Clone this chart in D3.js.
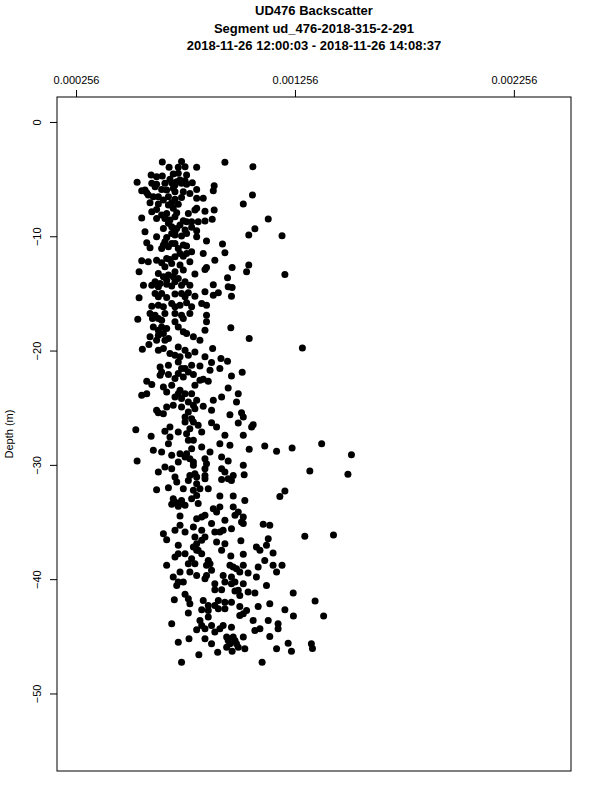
<!DOCTYPE html>
<html><head><meta charset="utf-8">
<script src="https://cdn.jsdelivr.net/npm/d3@7"></script>
<style>body{margin:0;background:#fff} svg{display:block}</style>
</head><body>
<script>
const titleLines = ["UD476 Backscatter", "Segment ud_476-2018-315-2-291", "2018-11-26 12:00:03 - 2018-11-26 14:08:37"];
const xTicks = [0.000256, 0.001256, 0.002256];
const xTickLabels = ["0.000256", "0.001256", "0.002256"];
const yTicks = [0, -10, -20, -30, -40, -50];
const yLabel = "Depth (m)";
const xLim = [0.000256, 0.00243];
const yLim = [-54.6, 0];

// Depth (m) and backscatter (x 1e-6), band by band
const depthUpper = [
 -3.5,-3.47,-3.97,-3.97,-3.91,-3.97,-3.53,-3.91,
 -4.64,-4.79,-4.73,-4.55,-4.49,-4.64,
 -5.28,-5.37,-5.46,-5.37,-5.31,-5.22,-5.37,-5.46,-5.31,-5.57,
 -6.01,-6.19,-5.9,-5.95,-5.81,-6.1,-5.9,-6.01,-6.39,
 -6.39,-6.54,-6.54,-6.77,-6.6,-6.68,-6.68,
 -7.06,-7.18,-7.06,-7.21,-7.18,
 -7.85,-7.65,-8.0,-7.94,-8.0,-7.71,-7.56,-7.82,-7.71,
 -8.41,-8.44,-8.44,-8.58,-8.29,-8.64,-8.73,-8.73,-8.67,-8.52,-8.49,
 -9.6,-9.31,-9.17,-9.31,-9.46,-9.22,-9.52,-9.34,-9.9,-9.95,
 -10.04,-10.1,-9.9,-9.98,-10.04,-10.42,
 -10.57,-11.0,-10.77,-10.92,-10.63,-11.06,-10.86,-10.68,
 -11.5,-11.5,-11.36,-11.5,-11.44,
 -12.14,-12.23,-12.09,-11.94,-12.38,-12.52,-12.23,-12.09,-12.73,-12.73,-12.52,
 -13.11,-13.25,-13.55,-13.4,-13.11,-12.96,-13.31,-12.9,-13.11,-13.34,-13.63,
 -14.28,-14.28,-14.13,-14.19,-13.98,-13.98,-14.28,-14.25,-14.42,-14.48,
 -15.39,-15.0,-15.3,-15.36,-15.06,-15.0,-14.95,-15.24,-14.86,-15.15,-14.95,-15.24,
 -16.12,-16.03,-15.88,-16.03,-15.82,-15.88,-16.03,
 -16.76,-16.9,-16.76,-16.76,-16.9,-16.76,-16.9,-17.25,-17.34,-17.2,-17.49
];
const backscatterUpperE6 = [
 650,738,681,723,754,807,936,1064,
 599,624,650,700,723,761,
 535,602,624,662,693,716,738,761,787,887,
 556,579,647,670,700,746,807,883,1062,
 586,632,678,708,738,807,837,
 594,632,693,723,1020,
 602,624,670,716,769,799,807,845,887,
 556,624,662,685,708,746,784,814,845,878,1134,
 571,655,693,716,754,784,807,1073,1045,1197,
 624,670,708,738,807,852,
 579,594,655,678,693,723,761,925,
 731,761,784,837,936,
 556,586,624,670,693,731,776,890,852,969,1045,
 544,632,655,678,708,746,799,845,1035,1210,948,
 564,602,640,670,708,754,776,883,951,969,
 544,617,632,670,708,738,769,799,845,883,906,966,
 602,632,693,731,761,830,852,
 594,617,662,708,738,776,852,538,647,746,852
];
const depthMiddle = [
 -17.93,-18.22,-18.51,-18.07,-17.93,-18.36,-18.51,-18.8,-19.09,-18.22,-18.01,-18.95,-18.8,-19.09,-18.95,
 -19.77,-19.88,-19.47,-19.97,-19.82,-20.26,-19.68,-19.97,-20.12,-19.82,-20.55,-20.7,-20.93,-21.05,
 -21.43,-21.28,-20.99,-21.58,-21.28,-21.34,-21.72,-21.58,-22.22,-21.9,
 -22.16,-22.1,-22.45,-22.31,-22.1,-22.6,-22.69,-22.69,-22.98,-23.18,-23.04,-23.47,-23.04,-22.51,
 -23.91,-23.77,-24.06,-23.77,-23.77,-24.35,-24.35,-24.06,-23.27,-23.77,-24.5,
 -25.43,-24.93,-24.79,-24.93,-25.37,-25.08,-24.88,-25.23,-25.61,-25.43,-25.81,
 -26.92,-27.5,-27.07,-26.69,-27.12,-26.25,-26.25,-26.83,-27.12,-26.31,-26.69,-27.42,-26.34,-26.48,-27.42,-26.69,
 -28.73,-28.88,-28.15,-29.17,-29.02,-27.85,-28.58,-28.44,-28.88,-28.15,-28.29,-28.64,-28.35,-28.82,-28.53,-28.15,-29.11,
 -29.66,-30.63,-30.19,-30.34,-29.75,-29.31,-29.46,-30.04,-30.77,-29.46,-30.34,-29.31,-29.66,-30.34,-30.63,-30.92,-30.04,-30.86,-30.54,-30.83,
 -32.18,-32.0,-31.5,-32.09,-31.36,-31.65,-31.21,-32.09,-31.27,-31.21,-31.36,-32.76,-32.29,
 -32.96,-33.11,-32.96,-32.67,-32.73,-32.73,-33.11
];
const backscatterMiddleE6 = [
 609,632,655,670,723,746,761,792,822,845,963,1047,594,624,678,
 1290,559,589,632,655,685,723,754,799,880,845,918,948,875,
 640,678,723,738,784,822,868,913,966,1015,
 640,678,708,746,792,822,860,579,602,655,693,731,799,837,
 556,579,708,754,784,807,883,921,951,997,989,
 632,670,700,738,769,799,837,875,959,1012,1020,
 529,599,662,685,723,754,792,776,830,875,898,936,997,1065,1020,1058,
 609,647,678,693,731,769,784,830,868,913,959,1047,1118,1172,1243,1378,1514,
 535,632,662,693,723,754,776,792,799,845,845,921,951,921,936,974,1020,1024,1324,1498,
 624,678,716,746,769,807,845,860,921,951,966,1187,1210,
 700,738,784,807,913,974,1027
];
const depthLower = [
 -33.45,-33.63,-33.54,-33.39,-33.68,-33.68,-34.12,-34.41,-34.71,-34.41,-34.56,-34.85,-34.47,
 -35.29,-35.44,-35.73,-35.14,-35.87,-35.73,-35.58,-35.14,-35.2,-35.29,-36.25,-36.14,
 -36.02,-36.55,-35.73,-35.87,-36.31,-36.31,-36.75,-36.9,-36.63,-37.19,-36.46,-37.04,-37.04,
 -37.77,-37.77,-38.21,-37.48,-37.77,-38.36,-37.48,-37.98,-37.83,-37.71,-37.48,
 -38.79,-38.65,-38.65,-38.79,-39.23,-38.79,-39.09,-38.79,-39.47,-38.94,-38.36,-38.79,-39.38,-38.79,
 -39.82,-40.25,-40.55,-39.38,-39.67,-39.67,-40.4,-40.25,-40.25,-40.4,-39.67,-39.82,-39.82,-40.55,-39.38,
 -41.8,-41.33,-42.15,-41.86,-40.93,-40.93,-41.04,-41.42,-41.13,-41.22,-41.22,
 -42.97,-42.68,-42.3,-41.86,-42.59,-42.01,-42.39,-42.74,-42.39,-42.15,-42.68,-43.23,-41.92,-43.23,
 -43.9,-44.43,-44.05,-43.32,-44.63,-44.05,-44.2,-43.03,-43.61,-44.34,-43.61,-43.9,-44.34,
 -45.51,-45.22,-45.22,-45.66,-45.07,-45.66,-45.36,-45.07,-45.95,-46.09,-45.01,-46.09,-45.6,-46.3,-45.66,-46.06,
 -46.62,-46.39,-46.3,-47.26,-47.26
];
const backscatterLowerE6 = [
 693,723,754,814,913,974,898,845,807,982,1020,936,731,
 731,792,830,875,890,928,966,1020,1111,1141,1301,1432,
 655,670,708,754,799,845,898,936,1009,1080,1134,1126,723,
 723,754,784,807,830,860,921,963,1020,1156,1096,
 670,769,799,852,875,959,989,1020,1042,1088,1118,1156,1172,1197,
 700,746,716,776,807,852,890,936,982,1020,928,966,1080,1126,731,
 705,754,776,837,890,921,982,1004,1042,1073,1248,
 769,830,860,906,936,966,1004,1035,1088,1141,1210,1249,1348,1387,
 693,807,830,860,890,928,966,1020,1065,1096,1134,1179,1179,
 723,772,845,875,944,959,982,1020,997,1027,1141,1172,1225,1240,1331,1336,
 817,903,969,738,1106
];
// Points hidden inside the dense overlapping clusters
const depthDense = [
 -5.02,-5.08,-5.52,-5.14,-5.95,-6.83,-7.27,-8.87,-9.02,-9.6,-10.48,-11.06,-11.74,-12.32,-12.03,
 -13.84,-13.69,-13.55,-14.42,-14.28,-16.17,-16.17,-17.2,-17.49,
 -5.66,-6.1,-6.25,-6.54,-7.56,-8.14,-8.73,-9.75,-9.75,-10.63,-10.77,-11.79,-12.67,-13.98,-14.36,-15.0,-15.3,-16.17,-17.2,
 -18.66,-17.93,-19.09,-20.41,-20.55,-20.41,-21.58,-22.01,-21.87,-21.87,-24.2,-24.5,-24.79,-23.62,-23.77,
 -25.52,-25.23,-25.81,-25.96,-26.54,-27.27,-27.85,-27.56,-29.02,-29.75,-29.9,-30.92,-30.92,-31.07,-32.23,-32.09,-31.07,
 -33.25,-33.39,-34.56,-33.83,-34.12,-35.0,-36.9,-37.48,-37.19,-36.6,-35.87,-38.06,-38.65,-38.94,-39.38,
 -40.25,-39.96,-40.4,-40.98,-41.71,-42.74,-42.3,-42.01,-42.59,-43.61,-44.34,-44.05,-44.34,
 -45.36,-45.07,-45.95,-45.66,-43.17,-44.49
];
const backscatterDenseE6 = [
 685,731,708,754,571,655,678,678,731,708,662,647,746,647,685,
 670,723,700,632,738,708,784,605,708,
 617,708,776,609,700,647,761,693,761,708,746,708,662,617,693,647,754,655,632,
 632,647,662,708,731,769,754,723,769,647,738,769,792,670,723,
 655,624,754,784,814,761,792,685,761,792,852,845,776,807,792,822,708,
 708,731,830,883,997,1012,807,814,792,830,913,708,868,974,1004,
 723,845,966,997,769,860,890,936,906,822,845,875,913,
 951,974,944,989,1004,1073
];

const W = 600, H = 800;
const box = {left: 57, top: 97, right: 571, bottom: 771};

function pad(lim) { const r = lim[1] - lim[0]; return [lim[0] - 0.04 * r, lim[1] + 0.04 * r]; }

const x = d3.scaleLinear().domain(pad(xLim)).range([box.left, box.right]);
const y = d3.scaleLinear().domain(pad(yLim)).range([box.bottom, box.top]);

const svg = d3.select("body").append("svg").attr("width", W).attr("height", H)
  .style("font-family", "'Liberation Sans', Arial, Helvetica, sans-serif");

// Title
svg.append("g").selectAll("text").data(titleLines).join("text")
  .attr("x", (box.left + box.right) / 2)
  .attr("y", (d, i) => 15 + i * 17.6)
  .attr("text-anchor", "middle")
  .attr("font-size", 13).attr("font-weight", "bold")
  .text(d => d);

// Points
const points = [];
function addBand(depths, vals) {
  const n = Math.min(depths.length, vals.length);
  for (let i = 0; i < n; i++) points.push({depth: depths[i], value: vals[i] * 1e-6});
}
addBand(depthUpper, backscatterUpperE6);
addBand(depthMiddle, backscatterMiddleE6);
addBand(depthLower, backscatterLowerE6);
addBand(depthDense, backscatterDenseE6);

svg.append("g").selectAll("circle").data(points).join("circle")
  .attr("cx", d => x(d.value)).attr("cy", d => y(d.depth))
  .attr("r", 3.5).attr("fill", "#000");

// Top axis
const xAxis = d3.axisTop(x).tickValues(xTicks).tickFormat((d, i) => xTickLabels[i]).tickSize(7).tickPadding(6);
const gx = svg.append("g").attr("transform", `translate(0,${box.top})`).call(xAxis);
gx.select(".domain").remove();
gx.selectAll("text").attr("font-size", 11).attr("font-family", "'Liberation Sans', Arial, sans-serif").attr("fill", "#000");
gx.selectAll("line").attr("stroke", "#000");

// Left axis
const yAxis = d3.axisLeft(y).tickValues(yTicks).tickFormat(d3.format("d")).tickSize(7);
const gy = svg.append("g").attr("transform", `translate(${box.left},0)`).call(yAxis);
gy.select(".domain").remove();
gy.selectAll("line").attr("stroke", "#000");
gy.selectAll("text").attr("font-size", 11).attr("font-family", "'Liberation Sans', Arial, sans-serif").attr("fill", "#000")
  .attr("x", null).attr("dy", null)
  .attr("text-anchor", "middle")
  .attr("transform", "translate(-16,0) rotate(-90)");

// Box
svg.append("rect").attr("x", box.left).attr("y", box.top)
  .attr("width", box.right - box.left).attr("height", box.bottom - box.top)
  .attr("fill", "none").attr("stroke", "#000").attr("stroke-width", 1);

// Y label
svg.append("text").attr("transform", `translate(13,${(box.top + box.bottom) / 2}) rotate(-90)`)
  .attr("text-anchor", "middle").attr("font-size", 11).text(yLabel);
</script>
</body></html>
